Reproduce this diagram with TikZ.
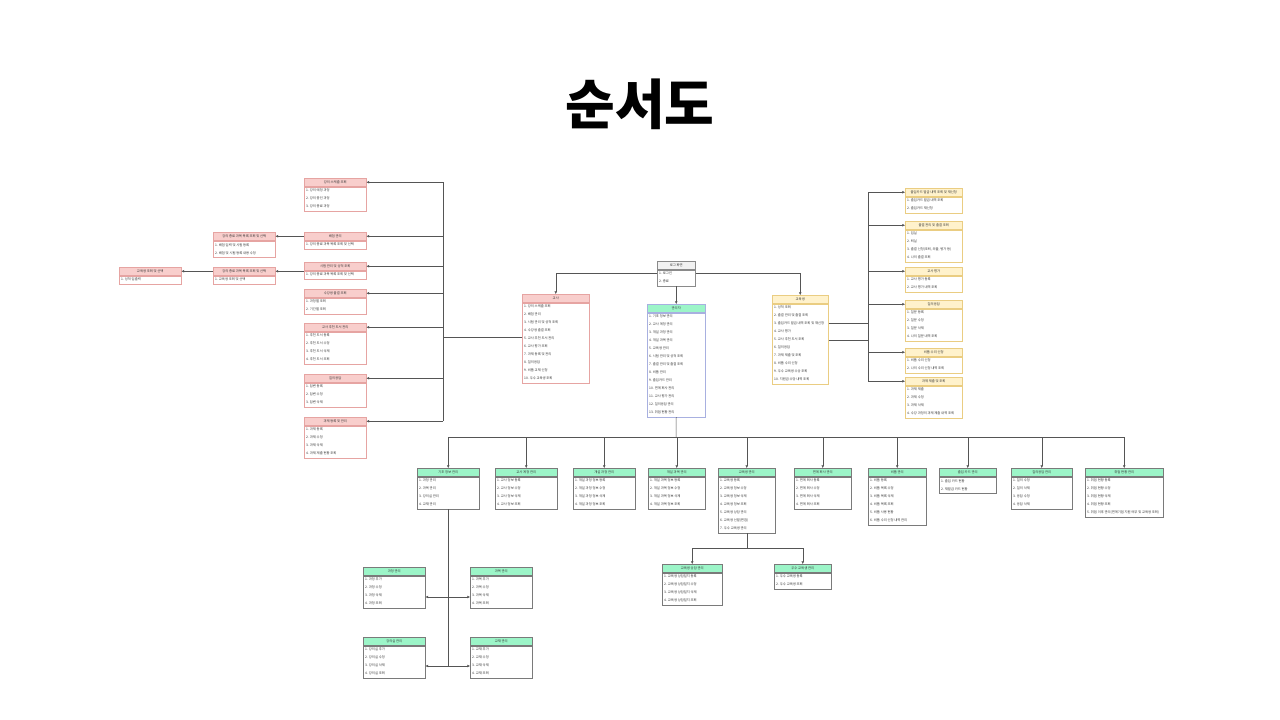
\documentclass[tikz,border=0pt]{standalone}
\usepackage{fontspec}
\setmainfont{Noto Sans CJK KR}
\usetikzlibrary{arrows.meta,shadows}
\definecolor{pinkF}{HTML}{F8CECC}
\definecolor{pinkD}{HTML}{E6A4A2}
\definecolor{yelF}{HTML}{FFF2CC}
\definecolor{yelD}{HTML}{EACD82}
\definecolor{grnF}{HTML}{9CF5C8}
\definecolor{grnD}{HTML}{7A7A7A}
\definecolor{admD}{HTML}{A8B0E0}
\definecolor{logF}{HTML}{F2F2F2}
\definecolor{logD}{HTML}{8A8A8A}
\definecolor{lineC}{HTML}{555555}
\definecolor{txtC}{HTML}{333333}
\tikzset{
  base/.style={rectangle, inner sep=0pt, line width=0.5pt},
  hdrfont/.style={font=\fontsize{3.3}{4}\selectfont, text=txtC},
  Phdr/.style={base, hdrfont, minimum height=8, fill=pinkF, draw=pinkD},
  Pbody/.style={base, fill=white, draw=pinkD},
  Yhdr/.style={base, hdrfont, minimum height=8, fill=yelF, draw=yelD},
  Ybody/.style={base, fill=white, draw=yelD},
  gshadow/.style={drop shadow={shadow xshift=0.9pt, shadow yshift=-0.9pt, fill=black, opacity=0.25}},
  Ghdr/.style={base, hdrfont, minimum height=8, fill=grnF, draw=grnD},
  Gbody/.style={base, fill=white, draw=grnD, gshadow},
  Ahdr/.style={base, hdrfont, minimum height=8, fill=grnF, draw=admD},
  Abody/.style={base, fill=white, draw=admD},
  Lhdr/.style={base, hdrfont, minimum height=8, fill=logF, draw=logD},
  Lbody/.style={base, fill=white, draw=logD},
  itemtxt/.style={inner sep=0pt, align=left, text=txtC, font=\fontsize{3.3}{8}\selectfont},
  conn/.style={draw=lineC, line width=0.5pt},
  arr/.style={conn, -{Triangle[length=2.6pt,width=2.4pt]}},
}
% #1 name, #2 x, #3 y, #4 width, #5 style letter, #6 header, #7 number of items, #8 items
\newcommand\ubox[8]{%
  \node[#5hdr, minimum width=#4, anchor=north west] (#1) at (#2,#3) {#6};
  \node[#5body, minimum width=#4, minimum height=8*#7, anchor=north] (#1b) at (#1.south) {};
  \node[itemtxt, anchor=west] (#1t) at ([xshift=2pt]#1b.west) {#8};
}
\begin{document}
\begin{tikzpicture}[x=1pt, y=-1pt]
\fill[white] (0,0) rectangle (1280,720);
\useasboundingbox (0,0) rectangle (1280,720);

\node[font=\fontsize{54}{60}\selectfont\bfseries] (title) at (640,104) {순서도};

% login
\ubox{L}{657}{261}{38}{L}{로그 화면}{2}{1. 로그인\\2. 종료}

% main role boxes
\ubox{T}{522}{294}{67}{P}{교사}{10}{1. 강의 스케줄 조회\\2. 배점 관리\\3. 시험 관리 및 성적 조회\\4. 수강생 출결 조회\\5. 교사 추천 도서 관리\\6. 교사 평가 조회\\7. 과제 등록 및 관리\\8. 질의응답\\9. 비품 교체 신청\\10. 우수 교육생 조회}
\ubox{A}{647}{304}{58}{A}{관리자}{13}{1. 기초 정보 관리\\2. 교사 계정 관리\\3. 개설 과정 관리\\4. 개설 과목 관리\\5. 교육생 관리\\6. 시험 관리 및 성적 조회\\7. 출결 관리 및 출결 조회\\8. 비품 관리\\9. 출입카드 관리\\10. 연계 회사 관리\\11. 교사 평가 관리\\12. 질의응답 관리\\13. 취업 현황 관리}
\ubox{S}{772}{295}{56}{Y}{교육생}{10}{1. 성적 조회\\2. 출결 관리 및 출결 조회\\3. 출입카드 발급 내역 조회 및 재신청\\4. 교사 평가\\5. 교사 추천 도서 조회\\6. 질의응답\\7. 과제 제출 및 조회\\8. 비품 수리 신청\\9. 우수 교육생 수상 조회\\10. 지원금 수당 내역 조회}

% teacher column (pink)
\ubox{P1}{304}{178}{62}{P}{강의 스케줄 조회}{3}{1. 강의 예정 과정\\2. 강의 중인 과정\\3. 강의 종료 과정}
\ubox{P2}{304}{232}{62}{P}{배점 관리}{1}{1. 강의 종료 과목 목록 조회 및 선택}
\ubox{P3}{304}{262}{62}{P}{시험 관리 및 성적 조회}{1}{1. 강의 종료 과목 목록 조회 및 선택}
\ubox{P4}{304}{289}{62}{P}{수강생 출결 조회}{2}{1. 과정별 조회\\2. 기간별 조회}
\ubox{P5}{304}{323}{62}{P}{교사 추천 도서 관리}{4}{1. 추천 도서 등록\\2. 추천 도서 수정\\3. 추천 도서 삭제\\4. 추천 도서 조회}
\ubox{P6}{304}{374}{62}{P}{질의응답}{3}{1. 답변 등록\\2. 답변 수정\\3. 답변 삭제}
\ubox{P7}{304}{417}{62}{P}{과제 등록 및 관리}{4}{1. 과제 등록\\2. 과제 수정\\3. 과제 삭제\\4. 과제 제출 현황 조회}
\ubox{FA}{213}{232}{62}{P}{강의 종료 과목 목록 조회 및 선택}{2}{1. 배점 입력 및 시험 등록\\2. 배점 및 시험 등록 내용 수정}
\ubox{FB}{213}{267}{62}{P}{강의 종료 과목 목록 조회 및 선택}{1}{1. 교육생 조회 및 선택}
\ubox{FC}{119}{267}{62}{P}{교육생 조회 및 선택}{1}{1. 성적 입출력}

% student column (yellow)
\ubox{R1}{905}{188}{57}{Y}{출입카드 발급 내역 조회 및 재신청}{2}{1. 출입카드 발급 내역 조회\\2. 출입카드 재신청}
\ubox{R2}{905}{221}{57}{Y}{출결 관리 및 출결 조회}{4}{1. 입실\\2. 퇴실\\3. 출결 신청(조퇴, 외출, 병가 등)\\4. 나의 출결 조회}
\ubox{R3}{905}{267}{57}{Y}{교사 평가}{2}{1. 교사 평가 등록\\2. 교사 평가 내역 조회}
\ubox{R4}{905}{300}{57}{Y}{질의응답}{4}{1. 질문 등록\\2. 질문 수정\\3. 질문 삭제\\4. 나의 질문 내역 조회}
\ubox{R5}{905}{348}{57}{Y}{비품 수리 신청}{2}{1. 비품 수리 신청\\2. 나의 수리 신청 내역 조회}
\ubox{R6}{905}{377}{57}{Y}{과제 제출 및 조회}{4}{1. 과제 제출\\2. 과제 수정\\3. 과제 삭제\\4. 수강 과정의 과제 제출 내역 조회}

% admin row (green)
\ubox{B1}{417}{468}{62}{G}{기초 정보 관리}{4}{1. 과정 관리\\2. 과목 관리\\3. 강의실 관리\\4. 교재 관리}
\ubox{B2}{495}{468}{62}{G}{교사 계정 관리}{4}{1. 교사 정보 등록\\2. 교사 정보 수정\\3. 교사 정보 삭제\\4. 교사 정보 조회}
\ubox{B3}{573}{468}{62}{G}{개설 과정 관리}{4}{1. 개설 과정 정보 등록\\2. 개설 과정 정보 수정\\3. 개설 과정 정보 삭제\\4. 개설 과정 정보 조회}
\ubox{B4}{648}{468}{57}{G}{개설 과목 관리}{4}{1. 개설 과목 정보 등록\\2. 개설 과목 정보 수정\\3. 개설 과목 정보 삭제\\4. 개설 과목 정보 조회}
\ubox{B5}{718}{468}{57}{G}{교육생 관리}{7}{1. 교육생 등록\\2. 교육생 정보 수정\\3. 교육생 정보 삭제\\4. 교육생 정보 조회\\5. 교육생 상담 관리\\6. 교육생 선발(면접)\\7. 우수 교육생 관리}
\ubox{B6}{794}{468}{57}{G}{연계 회사 관리}{4}{1. 연계 회사 등록\\2. 연계 회사 수정\\3. 연계 회사 삭제\\4. 연계 회사 조회}
\ubox{B7}{868}{468}{58}{G}{비품 관리}{6}{1. 비품 등록\\2. 비품 목록 수정\\3. 비품 목록 삭제\\4. 비품 목록 조회\\5. 비품 사용 현황\\6. 비품 수리 신청 내역 관리}
\ubox{B8}{939}{468}{57}{G}{출입 카드 관리}{2}{1. 출입 카드 현황\\2. 재발급 카드 현황}
\ubox{B9}{1011}{468}{61}{G}{질의응답 관리}{4}{1. 질의 수정\\2. 질의 삭제\\3. 응답 수정\\4. 응답 삭제}
\ubox{B10}{1085}{468}{78}{G}{취업 현황 관리}{5}{1. 취업 현황 등록\\2. 취업 현황 수정\\3. 취업 현황 삭제\\4. 취업 현황 조회\\5. 취업 이후 관리(연계기업 지원 여부 및 교육생 조회)}

\ubox{C1}{662}{564}{60}{G}{교육생 상담 관리}{4}{1. 교육생 상담일지 등록\\2. 교육생 상담일지 수정\\3. 교육생 상담일지 삭제\\4. 교육생 상담일지 조회}
\ubox{C2}{774}{564}{57}{G}{우수 교육생 관리}{2}{1. 우수 교육생 등록\\2. 우수 교육생 조회}

\ubox{D1}{363}{567}{62}{G}{과정 관리}{4}{1. 과정 추가\\2. 과정 수정\\3. 과정 삭제\\4. 과정 조회}
\ubox{D2}{470}{567}{62}{G}{과목 관리}{4}{1. 과목 추가\\2. 과목 수정\\3. 과목 삭제\\4. 과목 조회}
\ubox{D3}{363}{637}{62}{G}{강의실 관리}{4}{1. 강의실 추가\\2. 강의실 수정\\3. 강의실 삭제\\4. 강의실 조회}
\ubox{D4}{470}{637}{62}{G}{교재 관리}{4}{1. 교재 추가\\2. 교재 수정\\3. 교재 삭제\\4. 교재 조회}

% helper coordinates
\coordinate (y273) at (0,273);
\coordinate (y323) at (0,323);
\coordinate (y340) at (0,340);
\coordinate (y597) at (0,597);
\coordinate (y666) at (0,666);
\coordinate (lbus) at (443,337);
\coordinate (rbus) at (868,323);
\coordinate (bbus) at (676,437);
\coordinate (cbus) at (746,548);

% login connectors
\draw[arr] (Lb.west |- y273) -| (T.north);
\draw[arr] (Lb.east |- y273) -| (S.north);
\draw[arr] (Lb.south) -- (A.north);

% teacher connectors
\draw[conn] (Tb.west |- lbus) -- (lbus);
\draw[conn] (lbus |- P1.east) -- (lbus |- P7.east);
\foreach \n in {P1,P2,P3,P4,P5,P6,P7} {\draw[arr] (lbus |- \n.east) -- (\n.east);}
\draw[arr] (P2.west) -- (FA.east);
\draw[arr] (P3b.west |- FB.east) -- (FB.east);
\draw[arr] (FB.west) -- (FC.east);

% student connectors
\draw[conn] (Sb.east |- y323) -- (rbus);
\draw[conn] (Sb.east |- y340) -- (rbus |- y340);
\draw[conn] (rbus |- R1.west) -- (rbus |- R6.west);
\foreach \n in {R1,R2,R3,R4,R5,R6} {\draw[arr] (rbus |- \n.west) -- (\n.west);}

% admin connectors
\draw[conn] (Ab.south) -- (bbus);
\draw[conn] (B1.north |- bbus) -- (B10.north |- bbus);
\foreach \n in {B1,B2,B3,B4,B5,B6,B7,B8,B9,B10} {\draw[arr] (\n.north |- bbus) -- (\n.north);}

\draw[conn] (B5b.south) -- (B5b.south |- cbus);
\draw[conn] (C1.north |- cbus) -- (C2.north |- cbus);
\draw[arr] (C1.north |- cbus) -- (C1.north);
\draw[arr] (C2.north |- cbus) -- (C2.north);

\draw[conn] (B1b.south) -- (B1b.south |- y666);
\draw[arr] (B1b.south |- y597) -- (D1b.east |- y597);
\draw[arr] (B1b.south |- y597) -- (D2b.west |- y597);
\draw[arr] (B1b.south |- y666) -- (D3b.east |- y666);
\draw[arr] (B1b.south |- y666) -- (D4b.west |- y666);
\end{tikzpicture}
\end{document}
